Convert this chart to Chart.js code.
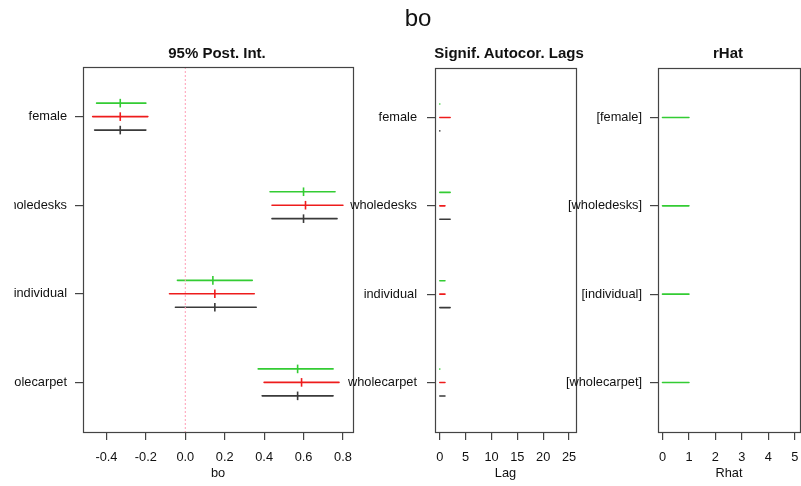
<!DOCTYPE html>
<html>
<head>
<meta charset="utf-8">
<title>bo</title>
<script src="https://cdn.jsdelivr.net/npm/chart.js@4.4.1/dist/chart.umd.min.js"></script>
<style>
    html, body { margin: 0; padding: 0; background: #fff; }
    #page { position: relative; width: 801px; height: 486px; overflow: hidden; font-family: "Liberation Sans", Arial, sans-serif; }
    canvas { position: absolute; top: 0; }
    .ttl { position: absolute; white-space: nowrap; transform: translate(-50%, -50%); color: #111; }
    .main { font-size: 24px; }
    .sub { font-size: 15px; font-weight: bold; }
</style>
</head>
<body>
<div id="page">
    <canvas id="postInt" width="350" height="486" style="left:14px"></canvas>
    <canvas id="lags" width="260" height="486" style="left:330px"></canvas>
    <canvas id="rhat" width="241" height="486" style="left:560px"></canvas>
    <div class="ttl main" style="left:418px; top:18px">bo</div>
    <div class="ttl sub" style="left:217px; top:52px">95% Post. Int.</div>
    <div class="ttl sub" style="left:509px; top:52px">Signif. Autocor. Lags</div>
    <div class="ttl sub" style="left:728px; top:52px">rHat</div>
</div>
<script>
// --- data ---
const params = ['female', 'wholedesks', 'individual', 'wholecarpet'];

// 95% posterior intervals, one set per chain (green, red, black)
const greenLo  = [-0.45, 0.43, -0.04, 0.37];
const greenMed = [-0.33, 0.60, 0.14, 0.57];
const greenHi  = [-0.20, 0.76, 0.34, 0.75];
const redLo    = [-0.47, 0.44, -0.08, 0.40];
const redMed   = [-0.33, 0.61, 0.15, 0.59];
const redHi    = [-0.19, 0.80, 0.35, 0.78];
const blackLo  = [-0.46, 0.44, -0.05, 0.39];
const blackMed = [-0.33, 0.60, 0.15, 0.57];
const blackHi  = [-0.20, 0.77, 0.36, 0.75];

// significant autocorrelation lags per chain
const lagGreen = [0, 2, 1, 0];
const lagRed   = [2, 1, 1, 1];
const lagBlack = [0, 2, 2, 1];

// rHat
const rhatVals = [1.0, 1.0, 1.0, 1.0];

const postTicks = [-0.4, -0.2, 0.0, 0.2, 0.4, 0.6, 0.8];
const lagTicks = [0, 5, 10, 15, 20, 25];
const rhatTicks = [0, 1, 2, 3, 4, 5];

// --- styling ---
const GREEN = '#33cc33', RED = '#ee1c1c', BLACK = '#3a3a3a', AXIS = '#444';
const ROW_OFF = 0.152;     // vertical gap between chains, in row units
const Y_MIN = 0.44, Y_MAX = 4.56;

Chart.defaults.font.family = '"Liberation Sans", Arial, sans-serif';
Chart.defaults.font.size = 12.8;
Chart.defaults.color = '#111';

const boxPlugin = {
    id: 'box',
    afterDraw(chart) {
        const a = chart.chartArea, ctx = chart.ctx;
        ctx.save();
        ctx.strokeStyle = AXIS;
        ctx.lineWidth = 1.2;
        ctx.strokeRect(Math.round(a.left) + 0.5, Math.round(a.top) + 0.5,
            Math.round(a.right - a.left), Math.round(a.bottom - a.top));
        ctx.restore();
    }
};

// horizontal segments with gaps, one row per parameter
function segs(lo, hi, off) {
    const pts = [];
    lo.forEach((l, i) => {
        pts.push({ x: l, y: i + 1 + off }, { x: hi[i], y: i + 1 + off }, { x: null, y: null });
    });
    return pts;
}
function meds(vals, off) {
    return vals.map((v, i) => ({ x: v, y: i + 1 + off }));
}
function segSet(data, color) {
    return { data, showLine: true, borderColor: color, borderWidth: 1.6, pointRadius: 0,
        borderCapStyle: 'round', spanGaps: false };
}
function medSet(data, color) {
    return { data, showLine: false, pointStyle: 'line', rotation: 90, pointRadius: 4.3,
        borderColor: color, backgroundColor: color, borderWidth: 1.6 };
}

function makePanel(id, datasets, opt) {
    return new Chart(document.getElementById(id), {
        type: 'scatter',
        data: { datasets },
        plugins: [boxPlugin],
        options: {
            responsive: false, animation: false, devicePixelRatio: 1,
            layout: { padding: { top: opt.top, right: opt.right, left: 0, bottom: 0 } },
            plugins: { legend: { display: false }, tooltip: { enabled: false }, title: { display: false } },
            scales: {
                x: {
                    type: 'linear', min: opt.xMin, max: opt.xMax,
                    afterBuildTicks: s => { s.ticks = opt.xTicks.map(v => ({ value: v })); },
                    afterFit: s => { s.height = 54; s.paddingLeft = 0; s.paddingRight = 0; },
                    grid: { display: true, drawOnChartArea: false, tickLength: 8, color: AXIS, lineWidth: 1.2 },
                    border: { display: false },
                    ticks: { padding: 10, autoSkip: false, maxRotation: 0, color: '#111', callback: opt.xFmt },
                    title: { display: true, text: opt.xTitle, color: '#111', padding: { top: 0, bottom: 5 } }
                },
                y: {
                    type: 'linear', min: Y_MIN, max: Y_MAX, reverse: true,
                    afterBuildTicks: s => { s.ticks = params.map((p, i) => ({ value: i + 1 })); },
                    afterFit: s => { s.width = opt.yWidth; s.paddingTop = 0; s.paddingBottom = 0; },
                    grid: { display: true, drawOnChartArea: false, tickLength: 8, color: AXIS, lineWidth: 1.2 },
                    border: { display: false },
                    ticks: { padding: opt.yPad, autoSkip: false, color: '#111', callback: opt.yFmt }
                }
            }
        }
    });
}

// panel 1: posterior intervals
makePanel('postInt', [
    { data: [{ x: 0, y: Y_MIN }, { x: 0, y: Y_MAX }], showLine: true, borderColor: '#ff9db4',
      borderWidth: 1, borderDash: [2, 2], pointRadius: 0 },
    segSet(segs(greenLo, greenHi, -ROW_OFF), GREEN),
    segSet(segs(redLo, redHi, 0), RED),
    segSet(segs(blackLo, blackHi, ROW_OFF), BLACK),
    medSet(meds(greenMed, -ROW_OFF), GREEN),
    medSet(meds(redMed, 0), RED),
    medSet(meds(blackMed, ROW_OFF), BLACK)
], {
    top: 67, right: 11, yWidth: 69, yPad: 8, xMin: -0.519, xMax: 0.851, xTicks: postTicks,
    xFmt: v => v.toFixed(1), xTitle: 'bo', yFmt: (v) => params[v - 1]
});

// panel 2: significant autocorrelation lags
const zeros = params.map(() => 0);
makePanel('lags', [
    segSet(segs(zeros, lagGreen, -ROW_OFF), GREEN),
    segSet(segs(zeros, lagRed, 0), RED),
    segSet(segs(zeros, lagBlack, ROW_OFF), BLACK)
], {
    top: 68, right: 14, yWidth: 105, yPad: 10, xMin: -0.93, xMax: 26.35, xTicks: lagTicks,
    xFmt: v => String(v), xTitle: 'Lag', yFmt: (v) => params[v - 1]
});

// panel 3: rHat
makePanel('rhat', [
    segSet(segs(zeros, rhatVals, 0), GREEN)
], {
    top: 68, right: 1, yWidth: 98, yPad: 8, xMin: -0.17, xMax: 5.2, xTicks: rhatTicks,
    xFmt: v => String(v), xTitle: 'Rhat', yFmt: (v) => '[' + params[v - 1] + ']'
});
</script>
</body>
</html>
